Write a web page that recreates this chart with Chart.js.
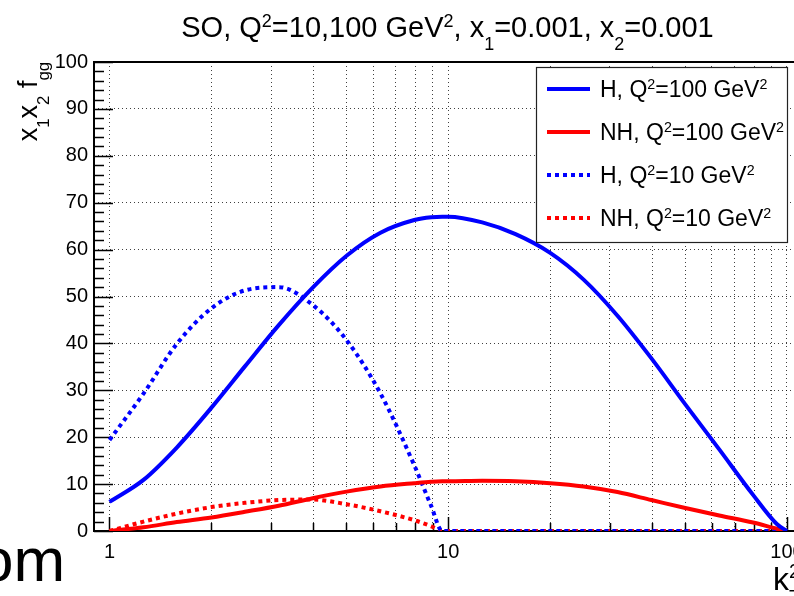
<!DOCTYPE html>
<html>
<head>
  <meta charset="UTF-8">
  <title>SO, x1 x2 f_gg vs kT2</title>
  <script src="https://cdn.jsdelivr.net/npm/chart.js@4.4.1/dist/chart.umd.min.js"></script>
  <style>
    html, body { margin: 0; padding: 0; background: #fff; overflow: hidden; }
    #wrap { position: relative; width: 812px; height: 596px; }
  </style>
</head>
<body>
  <div id="wrap">
    <canvas id="fggChart" width="812" height="596" style="width:812px;height:596px"></canvas>
  </div>
  <script>
    // kT^2 sample points (GeV^2)
    const kT2    = [1, 1.26, 1.58, 2, 2.51, 3.16, 3.98, 5.01, 6.31, 7.94, 8.91, 9.6, 10, 12.6, 15.8, 20, 25.1, 31.6, 39.8, 50.1, 63.1, 79.4, 93.3, 100];
    const hQ100  = [6.2, 10.9, 17.8, 26.3, 35.1, 43.9, 51.9, 58.7, 63.6, 66.3, 66.9, 67.0, 67.0, 65.8, 63.3, 59.3, 53.6, 45.9, 36.8, 27.0, 17.4, 7.7, 1.5, 0];
    const nhQ100 = [0, 0.8, 1.9, 2.9, 4.1, 5.4, 7.0, 8.4, 9.5, 10.2, 10.5, 10.6, 10.6, 10.7, 10.6, 10.2, 9.5, 8.3, 6.6, 4.9, 3.3, 1.8, 0.5, 0];
    const hQ10   = [19.4, 29.3, 39.9, 47.5, 51.3, 52.0, 48.2, 40.7, 29.3, 14.0, 5.3, 0, 0, 0, 0, 0, 0, 0, 0, 0, 0, 0, 0, 0];
    const nhQ10  = [0, 2.0, 3.7, 5.1, 6.0, 6.6, 6.7, 5.7, 4.2, 2.3, 1.0, 0, 0, 0, 0, 0, 0, 0, 0, 0, 0, 0, 0, 0];

    const seriesLabels = ['H, Q^{2}=100 GeV^{2}', 'NH, Q^{2}=100 GeV^{2}', 'H, Q^{2}=10 GeV^{2}', 'NH, Q^{2}=10 GeV^{2}'];
    const xTickValues = [1, 2, 3, 4, 5, 6, 7, 8, 9, 10, 20, 30, 40, 50, 60, 70, 80, 90, 100];
    const xLabelValues = [1, 10, 100];
    const yMin = 0, yMax = 100, yStep = 10, yMinorStep = 2;
    const xMin = 0.9, xMax = 110;

    const titleText = 'SO, Q^{2}=10,100 GeV^{2}, x_{1}=0.001, x_{2}=0.001';
    const yTitleText = 'x_{1}x_{2} f_{gg}';
    const xTitleText = 'k_{T}^{2}';
    const strayText = 'om';

    const FONT = "'Liberation Sans', Arial, Helvetica, sans-serif";
    Chart.defaults.font.family = FONT;
    Chart.defaults.color = '#000';

    // tiny TLatex-like text: _{..} subscript, ^{..} superscript
    function parseRich(str) {
      const segs = [];
      const re = /([_^])\{([^}]*)\}|([^_^]+)/g;
      let m;
      while ((m = re.exec(str))) {
        if (m[3]) segs.push({ t: m[3], mode: 0 });
        else segs.push({ t: m[2], mode: m[1] === '^' ? 1 : -1 });
      }
      return segs;
    }
    function layoutRich(ctx, str, size) {
      const segs = parseRich(str);
      const items = [];
      let x = 0, groupStart = 0, groupW = 0, prevMode = 0;
      segs.forEach(s => {
        if (s.mode === 0) {
          ctx.font = size + 'px ' + FONT;
          items.push({ t: s.t, x: x, dy: 0, size: size });
          x += ctx.measureText(s.t).width;
          prevMode = 0;
        } else {
          const ss = size * 0.62;
          ctx.font = ss + 'px ' + FONT;
          const w = ctx.measureText(s.t).width;
          let sx = x;
          if (prevMode !== 0 && prevMode !== s.mode) {
            sx = groupStart;
            x = groupStart + Math.max(groupW, w);
          } else {
            groupStart = x; groupW = w;
            x += w;
          }
          items.push({ t: s.t, x: sx, dy: s.mode === 1 ? -size * 0.36 : size * 0.45, size: ss });
          prevMode = s.mode;
        }
      });
      return { items: items, width: x };
    }
    function drawRich(ctx, str, x, y, size, align) {
      const lay = layoutRich(ctx, str, size);
      let x0 = x;
      if (align === 'center') x0 = x - lay.width / 2;
      if (align === 'right') x0 = x - lay.width;
      ctx.textBaseline = 'alphabetic';
      ctx.textAlign = 'left';
      lay.items.forEach(it => {
        ctx.font = it.size + 'px ' + FONT;
        ctx.fillText(it.t, x0 + it.x, y + it.dy);
      });
    }

    const styles = [
      { color: '#0000ff', dash: [] },
      { color: '#ff0000', dash: [] },
      { color: '#0000ff', dash: [4, 4] },
      { color: '#ff0000', dash: [4, 4] }
    ];
    const seriesValues = [hQ100, nhQ100, hQ10, nhQ10];

    // frame with inward ticks, ROOT style
    const framePlugin = {
      id: 'frame',
      beforeDatasetsDraw(chart) {
        const ctx = chart.ctx, a = chart.chartArea;
        const xs = chart.scales.x, ys = chart.scales.y;
        ctx.save();
        ctx.strokeStyle = '#000';
        ctx.lineWidth = 1.5;
        ctx.beginPath();
        for (let v = yMin; v <= yMax; v += yMinorStep) {
          const py = Math.round(ys.getPixelForValue(v)) + 0.5;
          const len = (v % yStep === 0) ? 19 : 10;
          ctx.moveTo(a.left, py); ctx.lineTo(a.left + len, py);
        }
        xTickValues.forEach(v => {
          const px = Math.round(xs.getPixelForValue(v)) + 0.5;
          const len = xLabelValues.includes(v) ? 14 : 8;
          ctx.moveTo(px, a.bottom); ctx.lineTo(px, a.bottom - len);
        });
        ctx.stroke();
        ctx.lineWidth = 2;
        ctx.strokeRect(a.left, a.top, a.right - a.left, a.bottom - a.top);
        ctx.restore();
      },
      afterDraw(chart) {
        const ctx = chart.ctx, a = chart.chartArea;
        ctx.save();
        ctx.fillStyle = '#000';
        // title
        drawRich(ctx, titleText, (a.left + a.right) / 2, 37, 29, 'center');
        // y title, rotated, ending at the top of the axis
        ctx.save();
        ctx.translate(37, a.top);
        ctx.rotate(-Math.PI / 2);
        drawRich(ctx, yTitleText, 0, 0, 27, 'right');
        ctx.restore();
        // x title, ending at the right of the axis
        drawRich(ctx, xTitleText, a.right, 590, 32, 'right');
        // stray text from the page behind
        ctx.font = '62px ' + FONT;
        ctx.textAlign = 'left';
        ctx.fillText(strayText, -21, 581);

        // legend
        const L = { left: 536, top: 67, right: 787, bottom: 242 };
        ctx.fillStyle = '#fff';
        ctx.fillRect(L.left, L.top, L.right - L.left, L.bottom - L.top);
        ctx.strokeStyle = '#222';
        ctx.lineWidth = 1.2;
        ctx.strokeRect(L.left + 0.5, L.top + 0.5, L.right - L.left, L.bottom - L.top);
        chart.data.datasets.forEach((ds, i) => {
          const cy = L.top + 22 + i * 43;
          ctx.strokeStyle = ds.borderColor;
          ctx.lineWidth = 4;
          ctx.setLineDash(ds.borderDash);
          ctx.beginPath();
          ctx.moveTo(547, cy); ctx.lineTo(590, cy);
          ctx.stroke();
          ctx.setLineDash([]);
          ctx.fillStyle = '#000';
          drawRich(ctx, ds.label, 600, cy + 8, 23, 'left');
        });
        ctx.restore();
      }
    };

    const datasets = seriesValues.map((vals, i) => ({
      label: seriesLabels[i],
      data: kT2.map((k, j) => ({ x: k, y: vals[j] })),
      borderColor: styles[i].color,
      backgroundColor: styles[i].color,
      borderDash: styles[i].dash,
      borderWidth: 4,
      pointRadius: 0,
      cubicInterpolationMode: 'monotone',
      fill: false
    }));

    new Chart(document.getElementById('fggChart'), {
      type: 'line',
      data: { datasets: datasets },
      options: {
        responsive: false,
        animation: false,
        layout: { padding: { top: 62, right: 11, bottom: 0, left: 0 } },
        plugins: { legend: { display: false }, title: { display: false }, tooltip: { enabled: false } },
        scales: {
          x: {
            type: 'logarithmic',
            min: xMin, max: xMax,
            border: { display: false, dash: [1, 3] },
            grid: { color: 'rgba(0,0,0,0.75)', lineWidth: 1, drawTicks: false },
            afterBuildTicks(scale) {
              scale.ticks = xTickValues.map(v => ({ value: v, major: xLabelValues.includes(v) }));
            },
            afterFit(scale) {
              scale.height = 65;
              scale.paddingLeft = 0; scale.paddingRight = 0;
            },
            ticks: {
              autoSkip: false, maxRotation: 0, padding: 9,
              font: { size: 20 },
              callback: (v) => xLabelValues.includes(v) ? String(v) : ''
            }
          },
          y: {
            min: yMin, max: yMax,
            border: { display: false, dash: [1, 3] },
            grid: { color: 'rgba(0,0,0,0.75)', lineWidth: 1, drawTicks: false },
            afterFit(scale) {
              scale.width = 94;
              scale.paddingTop = 0; scale.paddingBottom = 0;
            },
            ticks: { stepSize: yStep, padding: 6, font: { size: 20 } }
          }
        }
      },
      plugins: [framePlugin]
    });
  </script>
</body>
</html>
